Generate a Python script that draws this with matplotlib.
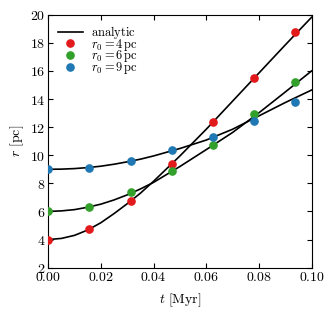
import numpy as np
import matplotlib
matplotlib.use("Agg")
import matplotlib.pyplot as plt

plt.rcParams['mathtext.fontset'] = 'cm'
plt.rcParams['font.family'] = 'serif'
plt.rcParams['font.size'] = 9

# analytic curves
t_line = [0.0, 0.005, 0.01, 0.015, 0.02, 0.025, 0.03, 0.035, 0.04,
          0.05, 0.06, 0.07, 0.08, 0.09, 0.10]
r_line_4 = [4.0, 4.08, 4.3, 4.68, 5.2, 5.85, 6.55, 7.3, 8.15,
            9.95, 11.85, 13.85, 15.85, 17.85, 19.82]
r_line_6 = [6.0, 6.04, 6.13, 6.3, 6.52, 6.82, 7.18, 7.6, 8.07,
            9.2, 10.4, 11.62, 13.02, 14.5, 16.0]
r_line_9 = [9.0, 9.01, 9.05, 9.12, 9.22, 9.36, 9.53, 9.72, 9.95,
            10.48, 11.08, 11.85, 12.8, 13.75, 14.64]

# simulation points
t_sim = [0.0, 0.0156, 0.0313, 0.0469, 0.0625, 0.0781, 0.0938]
r_sim_4 = [4.0, 4.76, 6.75, 9.4, 12.38, 15.5, 18.75]
r_sim_6 = [6.0, 6.3, 7.35, 8.85, 10.75, 12.9, 15.2]
r_sim_9 = [9.0, 9.12, 9.6, 10.35, 11.27, 12.45, 13.8]

labels = [r'$r_0 = 4\,\mathrm{pc}$', r'$r_0 = 6\,\mathrm{pc}$',
          r'$r_0 = 9\,\mathrm{pc}$']
colors = ['#e31a1c', '#33a02c', '#1f78b4']


def plot_data():
    fig = plt.figure(figsize=(3.34, 3.16), dpi=100)
    ax = fig.add_axes([0.1445, 0.153, 0.7885, 0.8005])

    for i, r in enumerate([r_line_4, r_line_6, r_line_9]):
        ax.plot(t_line, r, color='black', lw=1.2,
                label=r'$\mathrm{analytic}$' if i == 0 else None)
    for r, c, lab in zip([r_sim_4, r_sim_6, r_sim_9], colors, labels):
        ax.plot(t_sim, r, 'o', color=c, ms=5.2, ls='none', label=lab,
                zorder=3)

    ax.set_xlim(0, 0.10)
    ax.set_ylim(2, 20)
    ax.set_xticks(np.arange(0, 0.101, 0.02))
    ax.set_yticks(np.arange(2, 20.1, 2))
    ax.set_xticklabels([r'$%.2f$' % v for v in np.arange(0, 0.101, 0.02)])
    ax.set_yticklabels([r'$%d$' % v for v in np.arange(2, 21, 2)])
    ax.tick_params(direction='in', top=True, right=True, length=3.5,
                   width=0.8, labelsize=10, pad=2)
    for s in ax.spines.values():
        s.set_linewidth(0.8)
    ax.set_xlabel(r'$t\ [\mathrm{Myr}]$', fontsize=10, labelpad=5)
    ax.set_ylabel(r'$r\ [\mathrm{pc}]$', fontsize=10, labelpad=3)
    ax.legend(loc='upper left', frameon=False, fontsize=9,
              handlelength=2.0, labelspacing=-0.35, borderaxespad=0.35,
              handletextpad=0.65, numpoints=1)
    fig.savefig('out.png', dpi=100)


if __name__ == "__main__":
    plot_data()
